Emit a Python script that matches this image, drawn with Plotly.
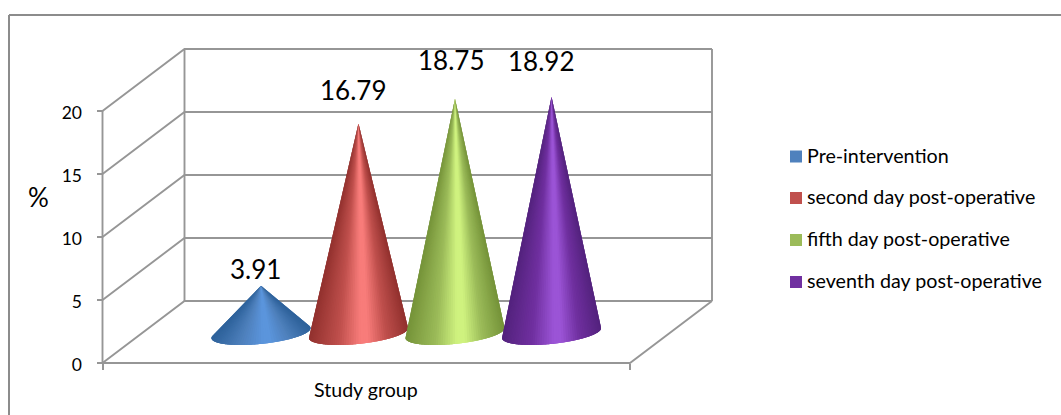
import numpy as np
import plotly.graph_objects as go

# Chart content
categories = ["Pre-intervention", "second day post-operative",
              "fifth day post-operative", "seventh day post-operative"]
values = [3.91, 16.79, 18.75, 18.92]
value_ticks = [0, 5, 10, 15, 20]
group_label = "Study group"
unit_label = "%"

# Shading of each cone, from its silhouette edge to its highlight
swatch_colors = ["#4f81bd", "#c0504d", "#9bbb59", "#7030a0"]
dark_colors = ["#2f639c", "#93322f", "#76943a", "#54237e"]
light_colors = ["#5b95dc", "#f87c7a", "#cff27f", "#9b54d6"]

# Page geometry in pixels
WIDTH, HEIGHT = 1061, 415
ORIGIN_X, ORIGIN_Y = 102.5, 363.0
FLOOR_W = 527.5
DEPTH_X, DEPTH_Y = 82.0, 62.0
PX_PER_UNIT = 12.6
GRID = "#969696"
FRAME = "#8c8c8c"
TEXT_FONT = "Lato"

depth_units = DEPTH_Y / PX_PER_UNIT
top_value = value_ticks[-1]


def project(along, depth, value):
    """Oblique projection: position along the floor, depth into it, and height."""
    return ORIGIN_X + along * FLOOR_W + depth * DEPTH_X, value + depth * depth_units


def hex_rgb(color):
    return np.array([int(color[i:i + 2], 16) for i in (1, 3, 5)], dtype=float)


def shade(dark, mid, light, u):
    """Colour across a cone; u runs 0..1 from its left edge to its right edge."""
    stops = [0.0, 0.30, 0.52, 0.60, 0.78, 1.0]
    ramp = [hex_rgb(dark), hex_rgb(mid), hex_rgb(light), hex_rgb(light),
            hex_rgb(mid), hex_rgb(dark)]
    rgb = [np.interp(u, stops, [c[k] for c in ramp]) for k in range(3)]
    return "rgb(%d,%d,%d)" % tuple(rgb)


fig = go.Figure()


def wall_line(points):
    xs, ys = zip(*[project(*p) for p in points])
    fig.add_trace(go.Scatter(x=xs, y=ys, mode="lines", showlegend=False,
                             hoverinfo="skip", line=dict(color=GRID, width=1.9)))


# Back wall, side wall and floor
for tick in value_ticks:
    wall_line([(0, 0, tick), (0, 1, tick), (1, 1, tick)])
wall_line([(0, 0, 0), (0, 0, top_value)])
wall_line([(0, 1, 0), (0, 1, top_value)])
wall_line([(1, 1, 0), (1, 1, top_value)])
wall_line([(0, 0, 0), (1, 0, 0), (1, 1, 0)])

# Cones: a fan of overlapping thin wedges from the tip to the base arc.
# The base ellipse is sheared so its right end sits higher than its left.
CONE_ALONG = [0.2305, 0.4153, 0.5983, 0.7813]
CONE_DEPTH = 0.45
RADIUS_X, RADIUS_Y = 49.5, 10.8
BASE_SHEAR = 0.1
BASE_LIFT = 2.0 / PX_PER_UNIT
WEDGES = 64
OVERLAP = 3


def base_point(cx, cy, t):
    x = RADIUS_X * np.cos(t)
    y = RADIUS_Y * np.sin(t) + BASE_SHEAR * x
    return cx + x, cy + BASE_LIFT + y / PX_PER_UNIT


for i, value in enumerate(values):
    cx, cy = project(CONE_ALONG[i], CONE_DEPTH, 0)
    tip_y = cy + value

    # Silhouette ends: the base points seen at the widest angle from the tip
    full = np.linspace(np.pi / 2, 5 * np.pi / 2, 721)
    px, py = base_point(cx, cy, full)
    lean = np.arctan2(px - cx, (tip_y - py) * PX_PER_UNIT)
    left_end = full[np.argmin(lean)]
    right_end = full[np.argmax(lean)]
    angles = np.linspace(left_end, right_end, WEDGES + 1)

    for k in range(WEDGES):
        arc = np.linspace(angles[k], angles[min(k + OVERLAP, WEDGES)], 6)
        xs, ys = base_point(cx, cy, arc)
        u = (np.cos((angles[k] + angles[k + 1]) / 2) + 1) / 2
        color = shade(dark_colors[i], swatch_colors[i], light_colors[i], u)
        fig.add_trace(go.Scatter(
            x=[cx, *xs, cx], y=[tip_y, *ys, tip_y], mode="none", fill="toself",
            fillcolor=color, showlegend=False, hoverinfo="skip"))

# Key on the right: one square and one caption per series
KEY_SWATCH_X, KEY_TEXT_X = 796, 807
KEY_ROWS_PX = [156.5, 198, 240, 282]
KEY_TEXT_DROP = 1.5
for name, color, row in zip(categories, swatch_colors, KEY_ROWS_PX):
    key_y = (ORIGIN_Y - row) / PX_PER_UNIT
    fig.add_trace(go.Scatter(
        x=[KEY_SWATCH_X], y=[key_y], mode="markers", name=name, showlegend=False,
        hoverinfo="skip", marker=dict(symbol="square", size=12, color=color)))
    fig.add_trace(go.Scatter(
        x=[KEY_TEXT_X], y=[key_y - KEY_TEXT_DROP / PX_PER_UNIT], mode="text", text=[name],
        textposition="middle right",
        textfont=dict(family=TEXT_FONT, size=19.7, color="#000000"),
        showlegend=False, hoverinfo="skip"))

# Value labels above the tips
LABEL_DX = [-5, -5, -4, -11]
LABEL_DY = [17, 34, 39, 36]
annotations = []
for i, value in enumerate(values):
    cx, cy = project(CONE_ALONG[i], CONE_DEPTH, 0)
    annotations.append(dict(x=cx, y=cy + value, xref="x", yref="y", text=f"{value:.2f}",
                            showarrow=False, xshift=LABEL_DX[i], yshift=LABEL_DY[i],
                            font=dict(family=TEXT_FONT, size=26, color="#000000")))
annotations.append(dict(x=366, y=-2.1, xref="x", yref="y", text=group_label, showarrow=False,
                        font=dict(family=TEXT_FONT, size=19.6, color="#000000")))
annotations.append(dict(x=38, y=13.2, xref="x", yref="y", text=unit_label, showarrow=False,
                        font=dict(family=TEXT_FONT, size=26, color="#000000")))

fig.update_layout(
    width=WIDTH, height=HEIGHT, autosize=False,
    margin=dict(l=0, r=0, t=0, b=0),
    paper_bgcolor="white", plot_bgcolor="white",
    font=dict(family=TEXT_FONT, size=16, color="#000000"),
    annotations=annotations,
    showlegend=False,
    # Chart frame, running off the right and bottom of the page
    shapes=[
        dict(type="line", xref="paper", yref="paper", x0=9 / WIDTH, x1=1, y0=1 - 15 / HEIGHT,
             y1=1 - 15 / HEIGHT, line=dict(color=FRAME, width=2)),
        dict(type="line", xref="paper", yref="paper", x0=9 / WIDTH, x1=9 / WIDTH,
             y0=1 - 15 / HEIGHT, y1=0, line=dict(color=FRAME, width=2)),
    ],
    xaxis=dict(range=[0, WIDTH], domain=[0, 1], fixedrange=True, showgrid=False, zeroline=False,
               anchor="free", position=1 - ORIGIN_Y / HEIGHT, tickmode="array",
               tickvals=[ORIGIN_X, ORIGIN_X + FLOOR_W], ticktext=["", ""], ticks="outside",
               ticklen=6, tickcolor=GRID, tickwidth=1.9, showline=False),
    yaxis=dict(range=[(ORIGIN_Y - HEIGHT) / PX_PER_UNIT, ORIGIN_Y / PX_PER_UNIT], domain=[0, 1],
               fixedrange=True, showgrid=False, zeroline=False, anchor="free",
               position=ORIGIN_X / WIDTH, tickmode="array", tickvals=value_ticks,
               ticks="outside", ticklen=6, tickcolor=GRID, tickwidth=1.9, showline=False,
               ticklabelstandoff=11, ticklabelshift=2,
               tickfont=dict(family=TEXT_FONT, size=17.5, color="#000000")),
)

fig.write_html("out.html")
